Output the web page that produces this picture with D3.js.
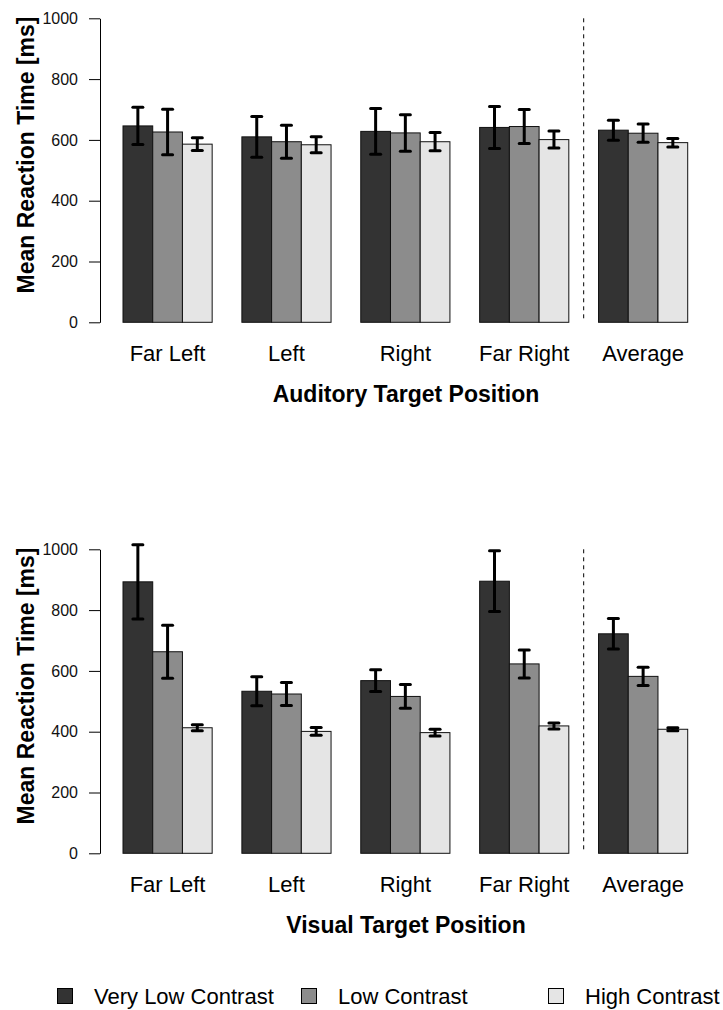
<!DOCTYPE html>
<html>
<head>
<meta charset="utf-8">
<script src="https://cdn.jsdelivr.net/npm/d3@7"></script>
<style>
  html, body { margin: 0; padding: 0; background: #ffffff; }
  svg { display: block; font-family: "Liberation Sans", Arial, Helvetica, sans-serif; }
</style>
</head>
<body>
<script>
// Target positions (shared by both panels)
const categories = ["Far Left", "Left", "Right", "Far Right", "Average"];
const seriesNames = ["Very Low Contrast", "Low Contrast", "High Contrast"];
const yTicks = [0, 200, 400, 600, 800, 1000];

// Auditory targets: mean reaction time [ms] and error half-width
const auditoryVeryLow    = [646, 610, 628, 641, 632];
const auditoryVeryLowErr = [61, 67, 75, 69, 33];
const auditoryLow        = [626, 594, 623, 644, 622];
const auditoryLowErr     = [75, 54, 60, 56, 30];
const auditoryHigh       = [586, 584, 594, 601, 591];
const auditoryHighErr    = [21, 26, 30, 28, 14];

// Visual targets: mean reaction time [ms] and error half-width
const visualVeryLow    = [893, 533, 568, 895, 722];
const visualVeryLowErr = [122, 48, 36, 100, 50];
const visualLow        = [663, 524, 516, 623, 582];
const visualLowErr     = [87, 38, 39, 46, 30];
const visualHigh       = [413, 401, 397, 419, 408];
const visualHighErr    = [10, 13, 11, 10, 5];

const fills = ["#333333", "#8c8c8c", "#e5e5e5"];

const W = 723, H = 1010;
const svg = d3.select("body").append("svg")
  .attr("width", W).attr("height", H)
  .attr("viewBox", `0 0 ${W} ${H}`);
svg.append("rect").attr("width", W).attr("height", H).attr("fill", "#fff");

const unit = 29.72;
const x0 = d3.scaleBand()
  .domain(categories)
  .range([123 - unit / 2, 687.7 + unit / 2])
  .paddingInner(0.25)
  .paddingOuter(0.125);
const x1 = d3.scaleBand()
  .domain(seriesNames)
  .range([0, x0.bandwidth()])
  .padding(0);

function drawPanel(offsetY, means, errs, title) {
  const g = svg.append("g").attr("transform", `translate(0,${offsetY})`);
  const y = d3.scaleLinear().domain([0, 1000]).range([322.3, 18.3]);

  // y axis
  const axis = g.append("g")
    .attr("transform", "translate(100,0)")
    .call(d3.axisLeft(y).tickValues(yTicks).tickSize(11).tickSizeOuter(0).tickPadding(11).tickFormat(d3.format("d")));
  axis.select(".domain").attr("stroke", "#000").attr("stroke-width", 1);
  axis.selectAll(".tick line").attr("stroke", "#000").attr("stroke-width", 1);
  axis.selectAll(".tick text")
    .attr("fill", "#111")
    .style("font-size", "16px")
    .style("font-family", "'Liberation Sans', Arial, sans-serif");

  // y axis title
  g.append("text")
    .attr("transform", "translate(34,155) rotate(-90)")
    .attr("text-anchor", "middle")
    .style("font-size", "23px")
    .style("font-weight", "bold")
    .attr("fill", "#000")
    .text("Mean Reaction Time [ms]");

  // bars
  const rows = [];
  categories.forEach((c, i) => {
    seriesNames.forEach((s, j) => {
      rows.push({ cat: c, ser: s, j, v: means[j][i], e: errs[j][i] });
    });
  });

  const groups = g.append("g");
  groups.selectAll("rect.bar")
    .data(rows)
    .join("rect")
    .attr("class", "bar")
    .attr("x", d => x0(d.cat) + x1(d.ser))
    .attr("width", x1.bandwidth())
    .attr("y", d => y(d.v))
    .attr("height", d => y(0) - y(d.v))
    .attr("fill", d => fills[d.j])
    .attr("stroke", "#111")
    .attr("stroke-width", 1);

  // error bars
  const eb = g.append("g")
    .attr("stroke", "#000")
    .attr("stroke-width", 3)
    .attr("stroke-linecap", "round")
    .attr("fill", "none");
  const cx = d => x0(d.cat) + x1(d.ser) + x1.bandwidth() / 2;
  eb.selectAll("line.stem").data(rows).join("line").attr("class", "stem")
    .attr("x1", cx).attr("x2", cx)
    .attr("y1", d => y(d.v - d.e)).attr("y2", d => y(d.v + d.e))
    .attr("stroke-linecap", "butt");
  eb.selectAll("line.capTop").data(rows).join("line").attr("class", "capTop")
    .attr("x1", d => cx(d) - 5).attr("x2", d => cx(d) + 5)
    .attr("y1", d => y(d.v + d.e)).attr("y2", d => y(d.v + d.e));
  eb.selectAll("line.capBot").data(rows).join("line").attr("class", "capBot")
    .attr("x1", d => cx(d) - 5).attr("x2", d => cx(d) + 5)
    .attr("y1", d => y(d.v - d.e)).attr("y2", d => y(d.v - d.e));

  // separator before the average group
  const sepX = x0("Average") - (x0.step() - x0.bandwidth()) / 2;
  g.append("line")
    .attr("x1", sepX).attr("x2", sepX)
    .attr("y1", y(1000)).attr("y2", y(0))
    .attr("stroke", "#000")
    .attr("stroke-width", 1)
    .attr("stroke-dasharray", "4,4");

  // category labels
  g.selectAll("text.cat")
    .data(categories)
    .join("text")
    .attr("class", "cat")
    .attr("x", d => x0(d) + x0.bandwidth() / 2)
    .attr("y", 361)
    .attr("text-anchor", "middle")
    .style("font-size", "22px")
    .attr("fill", "#000")
    .text(d => d);

  // x axis title
  g.append("text")
    .attr("x", 406)
    .attr("y", 402)
    .attr("text-anchor", "middle")
    .style("font-size", "23px")
    .style("font-weight", "bold")
    .attr("fill", "#000")
    .text(title);
}

drawPanel(0,
  [auditoryVeryLow, auditoryLow, auditoryHigh],
  [auditoryVeryLowErr, auditoryLowErr, auditoryHighErr],
  "Auditory Target Position");

drawPanel(531,
  [visualVeryLow, visualLow, visualHigh],
  [visualVeryLowErr, visualLowErr, visualHighErr],
  "Visual Target Position");

// legend
const legendX = [57, 301, 548];
const legend = svg.append("g");
const items = legend.selectAll("g.item")
  .data(seriesNames)
  .join("g")
  .attr("class", "item")
  .attr("transform", (d, i) => `translate(${legendX[i]},0)`);
items.append("rect")
  .attr("x", 0.5).attr("y", 988.5)
  .attr("width", 15).attr("height", 15)
  .attr("fill", (d, i) => fills[i])
  .attr("stroke", "#000")
  .attr("stroke-width", 1);
items.append("text")
  .attr("x", 37)
  .attr("y", 1004)
  .style("font-size", "22px")
  .attr("fill", "#000")
  .text(d => d);
</script>
</body>
</html>
